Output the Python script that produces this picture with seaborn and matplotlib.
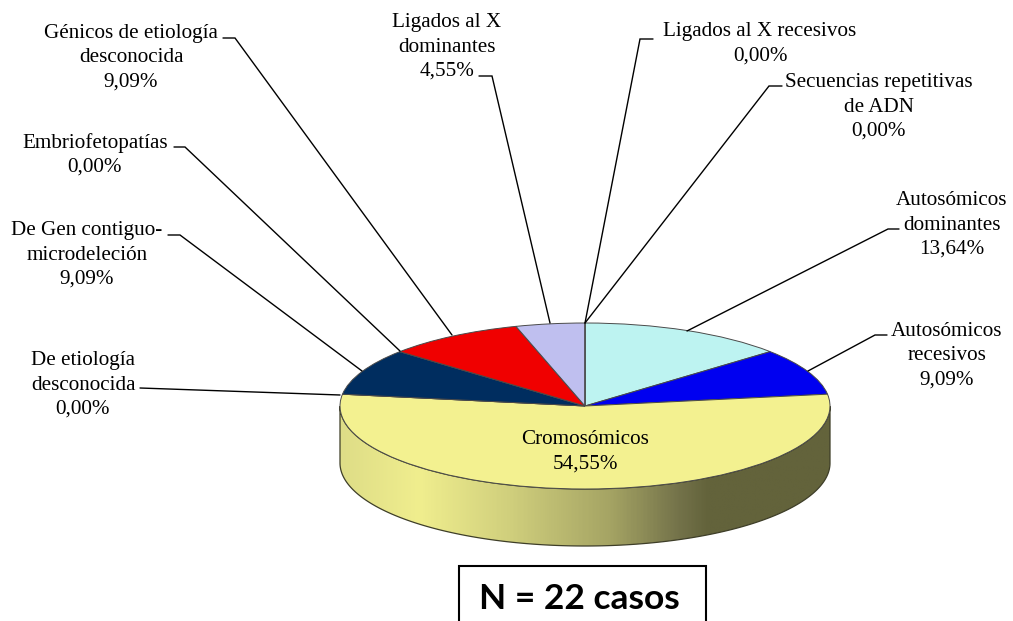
import numpy as np
import pandas as pd
import matplotlib
matplotlib.use("Agg")
import matplotlib.pyplot as plt
import seaborn as sns
from matplotlib.colors import LinearSegmentedColormap
from matplotlib.patches import Polygon, Rectangle

categorias = ["Autosómicos\ndominantes", "Autosómicos\nrecesivos", "Cromosómicos",
              "De etiología\ndesconocida", "De Gen contiguo-\nmicrodeleción", "Embriofetopatías",
              "Génicos de etiología\ndesconocida", "Ligados al X\ndominantes",
              "Ligados al X recesivos", "Secuencias repetitivas\nde ADN"]
casos = [3, 2, 12, 0, 2, 0, 2, 1, 0, 0]
colores = ["#BDF3F1", "#0000F0", "#F3F190", "#002D5F", "#002D5F", "#F00000",
           "#F00000", "#BFBFEF", "#BFBFEF", "#BFBFEF"]
lateral_pos = [0, 0.16, 0.35, 0.55, 0.69, 0.75, 1]
lateral = ["#DEDD87", "#F0EE8E", "#CFCE7C", "#A5A464", "#74734A", "#63633B", "#63633B"]

# label centres and leader lines, in reference pixels
pos_etiquetas = [(952, 225), (947, 356), (585, 452), (83, 385), (87, 255),
                 (95, 155), (131, 58), (447, 47), (760, 44), (879, 107)]
lideres = [[(899, 229), (888, 229), (687, 331)],
           [(887, 335), (875, 335), (808, 371)],
           None,
           [(140, 388), (340, 395)],
           [(168, 235), (180, 235), (362, 371)],
           [(174, 147), (185, 147), (400, 351)],
           [(223, 38), (235, 38), (452, 335)],
           [(479, 76), (492, 76), (550, 323)],
           [(653, 39), (640, 39), (585, 323)],
           [(782, 86), (769, 86), (585, 323)]]

df = pd.DataFrame({"categoria": categorias, "casos": casos})
df["pct"] = df["casos"] / df["casos"].sum() * 100

sns.set_theme(style="white")
plt.rcParams["font.family"] = ["Liberation Serif", "DejaVu Serif"]

W, H = 1013, 621
fig = plt.figure(figsize=(W / 100, H / 100), dpi=100)

# pie squashed into an ellipse, centre (585,406), radii 245 x 83 px
cx, cy, rx, ry, prof = 585, 406, 245, 83, 57
prof_u = prof / ry
margen = 0.02
ax = fig.add_axes([(cx - rx * (1 + margen)) / W,
                   (H - cy - ry * (1 + prof_u + margen)) / H,
                   2 * rx * (1 + margen) / W,
                   ry * (2 + prof_u + 2 * margen) / H])
wedges, _ = ax.pie(df["casos"], colors=sns.color_palette(colores), startangle=90, counterclock=False,
                   radius=1, wedgeprops={"edgecolor": "#4A4A4A", "linewidth": 0.7, "zorder": 3})
ax.set_aspect("auto")

# side wall of the Cromosómicos slice, only the part facing the viewer
t = np.radians(np.linspace(wedges[2].theta1, wedges[2].theta2, 400))
t = t[np.sin(t) <= 0]
arriba = np.column_stack([np.cos(t), np.sin(t)])
abajo = np.column_stack([np.cos(t), np.sin(t) - prof_u])[::-1]
pared = Polygon(np.vstack([arriba, abajo]), closed=True, facecolor="none",
                edgecolor="#3E3E28", linewidth=0.9, zorder=2)
ax.add_patch(pared)
cmap = LinearSegmentedColormap.from_list("lateral", list(zip(lateral_pos, lateral)))
img = ax.imshow(np.linspace(0, 1, 400).reshape(1, -1), cmap=cmap, aspect="auto", zorder=1,
                extent=[-1, 1, -1 - prof_u, 0.2])
img.set_clip_path(pared)
ax.set_xlim(-1 - margen, 1 + margen)
ax.set_ylim(-1 - prof_u - margen, 1 + margen)

# overlay in pixel coordinates for labels and leaders
capa = fig.add_axes([0, 0, 1, 1], facecolor="none")
capa.set_xlim(0, W)
capa.set_ylim(H, 0)
capa.axis("off")

for nombre, pct, (x, y), lider in zip(df["categoria"], df["pct"], pos_etiquetas, lideres):
    txt = nombre + "\n" + f"{pct:.2f}".replace(".", ",") + "%"
    capa.text(x, y, txt, ha="center", va="center", fontsize=15.2, color="black", linespacing=1.37)
    if lider is not None:
        capa.plot(*zip(*lider), color="black", lw=1.0, solid_joinstyle="miter")

capa.add_patch(Rectangle((459, 566), 247, 70, facecolor="white", edgecolor="black", linewidth=1.5))
capa.text(579, 599, f"N = {df['casos'].sum()} casos", ha="center", va="center", fontsize=25.5,
          fontweight="bold", family=["Lato", "DejaVu Sans"], color="black")

plt.savefig("out.png", dpi=100)
plt.close()
